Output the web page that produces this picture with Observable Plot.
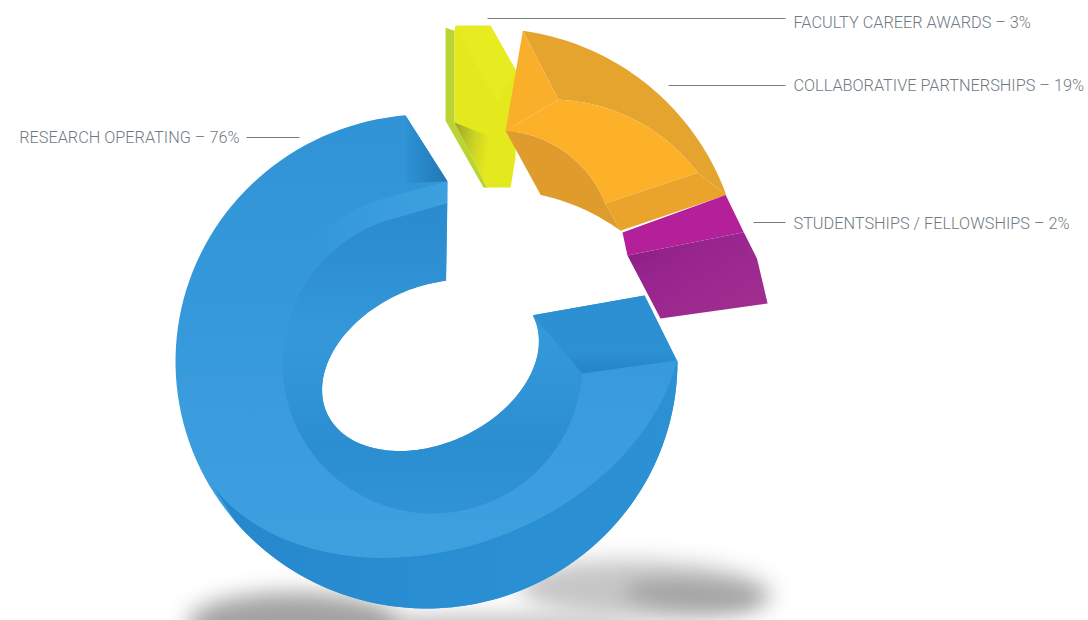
<!DOCTYPE html>
<html>
<head>
<meta charset="utf-8">
<style>
  html, body { margin: 0; padding: 0; background: #fff; }
  svg { display: block; }
</style>
<script src="https://cdn.jsdelivr.net/npm/d3@7"></script>
<script src="https://cdn.jsdelivr.net/npm/@observablehq/plot@0.6"></script>
</head>
<body>
<script>
// Funding shares, clockwise from the top of the ring.
const categories = ["FACULTY CAREER AWARDS", "COLLABORATIVE PARTNERSHIPS", "STUDENTSHIPS / FELLOWSHIPS", "RESEARCH OPERATING"];
const shares = [3, 19, 2, 76];

// Label placement, one entry per category.
const labelX = [793, 793, 793, 239];
const labelY = [22, 85, 223, 137];
const labelAnchor = ["start", "start", "start", "end"];
const leaderFrom = [487, 668, 753, 246];
const leaderTo = [785, 785, 785, 299];
const leaderY = [18, 85, 222, 137];

const labels = categories.map((c, i) => ({
  text: `${c} – ${shares[i]}%`,
  x: labelX[i], y: labelY[i], anchor: labelAnchor[i],
  x1: leaderFrom[i], x2: leaderTo[i], ly: leaderY[i]
}));

// Convert shares into clock angles (degrees) around the ring.
const startAngle = 3.6;
let running = startAngle;
const sweeps = shares.map(v => { const a = running; running += v * 3.6; return [a, running]; });
const [yellowSweep, orangeSweep, magentaSweep, blueSweep] = sweeps;

// Ring geometry: tilted ellipses for the projected edges of the extruded donut.
const rad = Math.PI / 180;
const ring = (cx, cy, a, b = a, rot = 0) => ({cx, cy, a, b, rot});
function at(r, t) {
  const dx = Math.sin(t * rad), dy = -Math.cos(t * rad);
  const c = Math.cos(r.rot * rad), s = Math.sin(r.rot * rad);
  const u = dx * c + dy * s, v = -dx * s + dy * c;
  const rho = 1 / Math.hypot(u / r.a, v / r.b);
  return {x: r.cx + rho * dx, y: r.cy + rho * dy};
}
function arc(r, t0, t1, n = 60) {
  return d3.range(n + 1).map(i => at(r, t0 + (t1 - t0) * i / n));
}
const polar = (cx, cy, t, r) => ({x: cx + r * Math.sin(t * rad), y: cy - r * Math.cos(t * rad)});
const shift = (p, dx, dy) => ({x: p.x + dx, y: p.y + dy});

const panel = (points, fill, options = {}) =>
  Plot.line(points, {x: "x", y: "y", fill, stroke: "none", curve: "linear-closed", ...options});

// Research operating: the long blue segment.
const [b0, b1] = blueSweep;
const blueSil = ring(426, 361, 251, 247);
const blueFace = ring(432, 360, 256, 188, -20);
const blueInner = ring(432, 363, 150);
const blueRim = ring(432, 363, 172);
const blueHole = ring(430, 365, 114, 78, -25);

const silEnd = at(blueSil, b1 - 8.5);
const topCorner = shift(silEnd, 42, 66);
const backCorner = shift(at(blueFace, b0), -32, -65);
const holeA = at(blueHole, b0 - 26.1);
const holeB = at(blueHole, b1 + 6.8);
const innerA = at(blueInner, b0 + 3.8);

const bluePanels = [
  panel([...arc(blueSil, b0, b1 - 8.5, 120), topCorner, ...arc(blueHole, b1 + 6.8, b0 - 26.1, 120), backCorner], "url(#blueLit)"),
  panel([...arc(blueSil, b0, b0 + 140, 80), ...arc(blueFace, b0 + 150, b0, 80)], "url(#blueUnder)"),
  panel([...arc(blueFace, b0, b1 - 13, 120), topCorner, ...arc(blueInner, b1 - 18.3, b0 + 3.8, 120)], "url(#blueLit)"),
  panel([...arc(blueRim, b1 - 48, b1 - 20, 30), topCorner, shift(topCorner, 0, 22), ...arc(blueInner, b1 - 18.3, b1 - 48, 30)], "url(#blueBand)"),
  panel([...arc(blueInner, b0 + 3.8, b1 - 18.3, 120), shift(topCorner, 0, 22), holeB, ...arc(blueHole, b1 + 6.8, b0 - 26.1, 120)], "url(#blueWall)"),
  panel([holeA, backCorner, at(blueFace, b0), innerA], "url(#blueEnd)"),
  panel([silEnd, topCorner, shift(silEnd, 0, 68)], "url(#blueTop)")
];

// Collaborative partnerships: the pulled-out orange segment.
const [o0, o1] = orangeSweep;
const orangeBack = ring(488, 281, 253);
const orangeFace = ring(550, 284, 185);
const orangeInner = ring(497, 246, 116);
const orangeLow = ring(497, 398, 208);
const orangePanels = [
  panel([...arc(orangeBack, o0 - 6.6, o1 - 12.8), ...arc(orangeFace, o1 - 30, o0 - 11.9)], "#e5a42e"),
  panel([at(orangeBack, o0 - 6.6), at(orangeFace, o0 - 11.9), at(orangeInner, o0 - 10.4)], "#faaf2a"),
  panel([...arc(orangeFace, o0 - 11.9, o1 - 30), ...arc(orangeInner, o1 - 14.6, o0 - 10.4)], "#fdb129"),
  panel([...arc(orangeInner, o0 - 10.4, o1 - 14.6), ...arc(orangeLow, o1 - 46.6, o0 - 2.4)], "#df9c2c"),
  panel([at(orangeInner, o1 - 14.6), at(orangeFace, o1 - 30), at(orangeBack, o1 - 12.8), at(orangeLow, o1 - 46.6)], "#eaa42b")
];

// Faculty career awards: the narrow yellow slab, as facets around its own pivot.
const [y0] = yellowSweep;
const yp = (d, r) => polar(480, 300, y0 + d, r);
const yellowPanels = [
  panel([yp(-10.9, 275), yp(-9.1, 271), yp(-11.9, 180), yp(-0.1, 113), yp(-2.1, 113), yp(-14.6, 183)], "#b9d433"),
  panel([yp(-9.1, 271), yp(-8.8, 276), yp(-1.5, 275), yp(5.1, 233), yp(10.2, 147), yp(11.3, 117), yp(1.4, 113.4), yp(-11.9, 180)], "#e4e91e"),
  panel([yp(-8.8, 276), yp(-1.5, 275), yp(5.1, 233), yp(1, 200)], "#e7ec20"),
  panel([yp(-11.9, 180), yp(-1, 165), yp(1.4, 113.4), yp(-0.1, 113)], "url(#yellowShade)")
];

// Studentships / fellowships: the magenta block, as facets around its own pivot.
const [m0] = magentaSweep;
const mp = (d, r) => polar(530, 346, m0 + d, r);
const magentaPanels = [
  panel([mp(-5, 133), mp(-36, 133), mp(-21, 242), mp(-14, 243), mp(-3.1, 241)], "url(#magentaLow)"),
  panel([mp(-43.9, 146.5), mp(-30.6, 247), mp(-21, 242), mp(-36, 133)], "#b3209a")
];

// Ground shadows under the ring.
const shadowLeft = arc(ring(292, 624, 106, 32), 0, 360);
const shadowBroad = arc(ring(645, 590, 130, 30, 2), 0, 360);
const shadowRight = arc(ring(692, 594, 70, 14, 3), 0, 360);
const shadowFaint = arc(ring(480, 628, 170, 16), 0, 360);

// Gradient definitions shared by the panels.
function defs() {
  const root = d3.create("svg:defs");
  const gradient = (id, x1, y1, x2, y2, stops, units = "objectBoundingBox") => {
    const g = root.append("linearGradient").attr("id", id).attr("gradientUnits", units)
      .attr("x1", x1).attr("y1", y1).attr("x2", x2).attr("y2", y2);
    stops.forEach(([o, c, a = 1]) => g.append("stop").attr("offset", o).attr("stop-color", c).attr("stop-opacity", a));
  };
  // The body and the front face share one page-wide ramp, so their upper seam stays soft.
  gradient("blueLit", 0, 115, 0, 560, [[0, "#2f93d5"], [0.2, "#3296d8"], [0.42, "#3498da"], [0.65, "#3a9cdd"], [1, "#3ea0df"]], "userSpaceOnUse");
  gradient("blueUnder", 0, 0, 1, 0, [[0, "#2688cc"], [0.5, "#2a8ed2"], [1, "#2c91d4"]]);
  gradient("blueBand", 0, 0, 1, 0, [[0, "#3ca0df", 0], [0.6, "#3ca0df", 0.8], [1, "#3ca0df", 1]]);
  gradient("blueWall", 0, 0, 0, 1, [[0, "#2a8ccf"], [0.2, "#2e90d3"], [0.42, "#3498da"], [0.62, "#3093d6"], [0.78, "#2a8ed1"], [1, "#2f93d6"]]);
  gradient("blueEnd", 0, 0, 0, 1, [[0, "#2b8fd2"], [0.7, "#2c91d3"], [1, "#2585c6"]]);
  gradient("blueTop", 0, 0, 1, 0, [[0, "#2e92d4"], [1, "#2277b4"]]);
  gradient("yellowShade", 0, 0, 1, 0.3, [[0, "#9aa32a"], [0.6, "#cdd622"], [1, "#e4e91e"]]);
  gradient("magentaLow", 0, 0, 1, 1, [[0, "#871b7f"], [0.35, "#98258f"], [1, "#a2308f"]]);
  return root.node();
}

const labelStyle = {
  x: "x", y: "y", text: "text", lineAnchor: "middle",
  fill: "#6f7a83", fontSize: 16.3, fontWeight: 300, fontFamily: "Roboto, 'Liberation Sans', sans-serif"
};

const chart = Plot.plot({
  width: 1088,
  height: 620,
  margin: 0,
  x: {domain: [0, 1088], axis: null},
  y: {domain: [620, 0], axis: null},
  style: {background: "#fff"},
  marks: [
    defs,
    panel(shadowFaint, "#cbcbcb", {imageFilter: "blur(9px)"}),
    panel(shadowBroad, "#c6c6c6", {imageFilter: "blur(11px)"}),
    panel(shadowLeft, "#a2a2a2", {imageFilter: "blur(11px)"}),
    panel(shadowRight, "#a4a4a4", {imageFilter: "blur(9px)"}),
    ...bluePanels,
    ...yellowPanels,
    ...orangePanels,
    ...magentaPanels,
    Plot.link(labels, {x1: "x1", x2: "x2", y1: "ly", y2: "ly", stroke: "#777b7e", strokeWidth: 1.2}),
    Plot.text(labels.filter(d => d.anchor === "start"), {...labelStyle, textAnchor: "start"}),
    Plot.text(labels.filter(d => d.anchor === "end"), {...labelStyle, textAnchor: "end"})
  ]
});
document.body.append(chart);
</script>
</body>
</html>
